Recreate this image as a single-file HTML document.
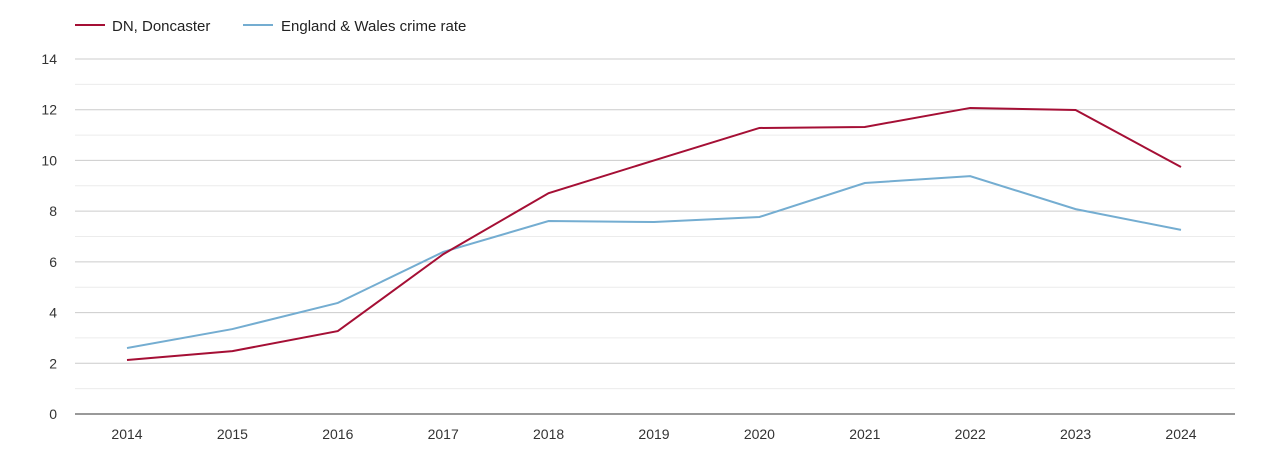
<!DOCTYPE html>
<html><head><meta charset="utf-8"><style>
body{margin:0;background:#fff;font-family:"Liberation Sans",sans-serif;}
svg text{font-family:"Liberation Sans",sans-serif;}
</style></head><body>
<svg id="chart" width="1270" height="450">
<g>
<g>
<line x1="75" y1="25" x2="105" y2="25" stroke="#a50f35" stroke-width="2"/>
<text x="112" y="31" font-size="15" fill="#222">DN, Doncaster</text></g>
<g>
<line x1="243" y1="25" x2="273" y2="25" stroke="#74add1" stroke-width="2"/>
<text x="281" y="31" font-size="15" fill="#222">England &amp; Wales crime rate</text></g>
</g>
<g id="grid"></g>
<g id="yaxis"></g>
<g id="xaxis"></g>
<g id="series"></g>
</svg>
<script>
const years = [2014,2015,2016,2017,2018,2019,2020,2021,2022,2023,2024];
const doncaster = [2.13,2.48,3.27,6.3,8.71,10.0,11.28,11.32,12.07,11.99,9.74];
const englandWales = [2.6,3.35,4.38,6.39,7.61,7.57,7.77,9.11,9.38,8.08,7.26];
const yTicks = [0,2,4,6,8,10,12,14];
const NS="http://www.w3.org/2000/svg";
const x0=75,x1=1235,yBase=414,yTop=59,yMax=14;
function xs(i){return 127+i*(1181-127)/(years.length-1);}
function ys(v){return yBase-(v/yMax)*(yBase-yTop);}
function mk(tag,attrs,parent){const e=document.createElementNS(NS,tag);for(const k in attrs)e.setAttribute(k,attrs[k]);parent.appendChild(e);return e;}
const grid=document.getElementById('grid'),ya=document.getElementById('yaxis'),xa=document.getElementById('xaxis'),ser=document.getElementById('series');
for(let v=1;v<=yMax;v++){
  const l=mk('line',{x1:x0,x2:x1,y1:ys(v),y2:ys(v),stroke:v%2?'#ececec':'#cccccc','stroke-width':1},grid);
  
  
}
yTicks.forEach(v=>{
  const t=mk('text',{x:57,y:ys(v)+5,'text-anchor':'end','font-size':14,fill:'#333'},ya);
  t.textContent=v;
  
  
});
const ax=mk('line',{x1:x0,x2:x1,y1:yBase,y2:yBase,stroke:'#333','stroke-width':1},xa);


years.forEach((y,i)=>{
  const t=mk('text',{x:xs(i),y:439,'text-anchor':'middle','font-size':14,fill:'#333'},xa);
  t.textContent=y;
  
  
});
function line(vals,color,name){
  const p=mk('polyline',{points:vals.map((v,i)=>xs(i)+','+ys(v)).join(' '),fill:'none',stroke:color,'stroke-width':2},ser);
  
  
}
line(englandWales,'#74add1','england-wales-line');
line(doncaster,'#a50f35','doncaster-line');
</script>
</body></html>
